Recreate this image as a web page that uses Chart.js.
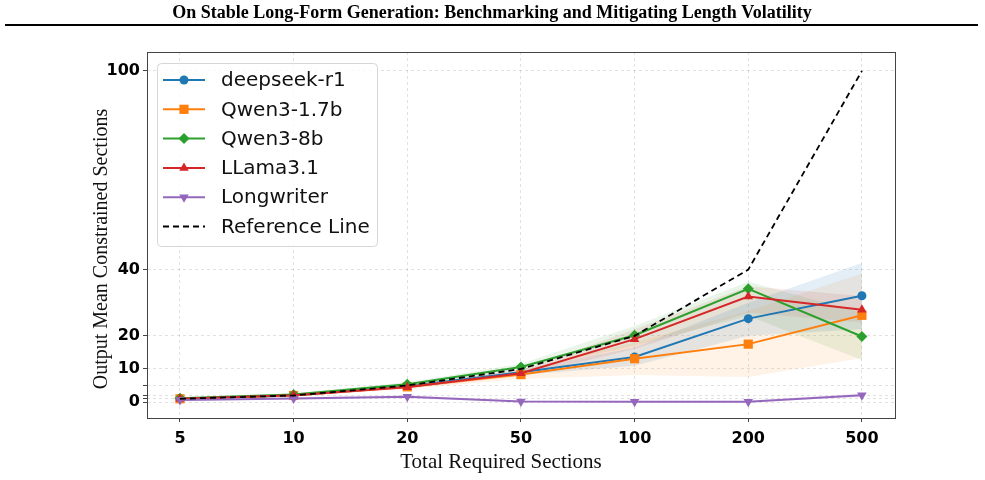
<!DOCTYPE html>
<html>
<head>
<meta charset="utf-8">
<script src="https://cdn.jsdelivr.net/npm/chart.js@4"></script>
<style>
  html, body { margin: 0; padding: 0; background: #fff; }
  #wrap { position: relative; width: 985px; height: 480px; }
</style>
</head>
<body>
<div id="wrap"><canvas id="chart" width="985" height="480"></canvas></div>
<script>
// categories on x (total required sections)
var categories = ['5', '10', '20', '50', '100', '200', '500'];

// y ticks (only some labelled)
var yTickValues = [0, 1, 2, 5, 10, 20, 40, 100];
var yTickLabels = [0, 10, 20, 40, 100];

// mean values
var deepseek   = [1.0, 2.0, 4.8, 9.0, 13.6, 25.2, 32.1];
var qwen17     = [1.0, 2.0, 4.6, 8.3, 13.1, 17.5, 26.2];
var qwen8      = [1.2, 2.3, 5.4, 10.6, 20.2, 34.2, 19.8];
var llama      = [1.0, 2.1, 4.5, 8.7, 19.0, 31.9, 27.9];
var longwriter = [0.6, 1.1, 1.6, 0.2, 0.1, 0.1, 2.1];
var reference  = [1, 2, 5, 10, 20, 40, 100];

// shaded bands (lower / upper)
var deepseekLo = [0.7, 1.7, 4.3, 8.2, 11.0, 20.0, 22.0];
var deepseekHi = [1.3, 2.3, 5.3, 9.8, 16.5, 30.0, 42.0];
var qwen17Lo   = [0.7, 1.7, 4.0, 7.0, 8.2, 7.6, 13.3];
var qwen17Hi   = [1.3, 2.3, 5.2, 9.6, 18.0, 27.5, 38.8];
var qwen8Lo    = [0.9, 1.9, 4.8, 9.6, 17.0, 26.0, 12.7];
var qwen8Hi    = [1.5, 2.7, 6.0, 11.6, 23.0, 36.3, 27.0];
var llamaLo    = [0.7, 1.7, 4.0, 7.8, 16.0, 27.0, 24.0];
var llamaHi    = [1.3, 2.4, 5.0, 9.6, 22.0, 35.0, 32.0];
var longLo     = [0.3, 0.7, 1.1, 0.0, 0.0, 0.0, 1.5];
var longHi     = [0.9, 1.5, 2.1, 0.4, 0.4, 0.4, 2.7];

function pts(arr) {
  return arr.map(function (v, i) { return { x: i, y: v }; });
}

var series = [
  { label: 'deepseek-r1', data: deepseek, lo: deepseekLo, hi: deepseekHi, color: '#1f77b4', fill: 'rgba(31,119,180,0.12)', marker: 'circle', r: 4.5, rot: 0 },
  { label: 'Qwen3-1.7b', data: qwen17, lo: qwen17Lo, hi: qwen17Hi, color: '#ff7f0e', fill: 'rgba(255,127,14,0.10)', marker: 'rect', r: 6.5, rot: 0 },
  { label: 'Qwen3-8b', data: qwen8, lo: qwen8Lo, hi: qwen8Hi, color: '#2ca02c', fill: 'rgba(44,160,44,0.10)', marker: 'rectRot', r: 5.5, rot: 0 },
  { label: 'LLama3.1', data: llama, lo: llamaLo, hi: llamaHi, color: '#d62728', fill: 'rgba(214,39,40,0.10)', marker: 'triangle', r: 5.5, rot: 0 },
  { label: 'Longwriter', data: longwriter, lo: longLo, hi: longHi, color: '#9467bd', fill: 'rgba(148,103,189,0.12)', marker: 'triangle', r: 5.5, rot: 180 }
];

var datasets = [];
// bands first
series.forEach(function (s, k) {
  datasets.push({ label: '_hi' + k, data: pts(s.hi), borderWidth: 0, pointRadius: 0, fill: '+1', backgroundColor: s.fill, order: 20 + k });
  datasets.push({ label: '_lo' + k, data: pts(s.lo), borderWidth: 0, pointRadius: 0, fill: false, order: 20 + k });
});
series.forEach(function (s, k) {
  datasets.push({
    label: s.label, data: pts(s.data), borderColor: s.color, backgroundColor: s.color,
    borderWidth: 2, pointStyle: s.marker, pointRadius: s.r, pointRotation: s.rot,
    pointBorderWidth: 0, fill: false, order: 10 - k
  });
});
datasets.push({
  label: 'Reference Line', data: pts(reference), borderColor: '#000', borderWidth: 1.8,
  borderDash: [6, 4], pointRadius: 0, fill: false, order: 0
});

function drawMarker(ctx, type, x, y, r, rot, color) {
  ctx.save();
  ctx.fillStyle = color;
  ctx.translate(x, y);
  ctx.rotate(rot * Math.PI / 180);
  ctx.beginPath();
  if (type === 'circle') {
    ctx.arc(0, 0, r, 0, Math.PI * 2);
  } else if (type === 'rect') {
    var h = r * Math.SQRT1_2;
    ctx.rect(-h, -h, 2 * h, 2 * h);
  } else if (type === 'rectRot') {
    ctx.moveTo(0, -r); ctx.lineTo(r, 0); ctx.lineTo(0, r); ctx.lineTo(-r, 0);
  } else {
    var sz = r * 1.5;
    ctx.moveTo(0, -r); ctx.lineTo(sz * 0.58, r / 2); ctx.lineTo(-sz * 0.58, r / 2);
  }
  ctx.closePath();
  ctx.fill();
  ctx.restore();
}

var decor = {
  id: 'decor',
  afterDraw: function (chart) {
    var ctx = chart.ctx, a = chart.chartArea;
    ctx.save();
    // page header
    ctx.fillStyle = '#000';
    ctx.font = 'bold 18px "Liberation Serif", "Times New Roman", serif';
    ctx.textAlign = 'center';
    ctx.textBaseline = 'middle';
    ctx.fillText('On Stable Long-Form Generation: Benchmarking and Mitigating Length Volatility', 492, 13);
    ctx.fillRect(5, 24, 973, 2);

    // frame
    ctx.strokeStyle = '#444';
    ctx.lineWidth = 1;
    ctx.strokeRect(a.left + 0.5, a.top + 0.5, a.right - a.left - 1, a.bottom - a.top);

    // axis titles
    ctx.fillStyle = '#111';
    ctx.font = '21px "Liberation Serif", "Times New Roman", serif';
    ctx.fillText('Total Required Sections', 501, 462);
    ctx.font = '20px "Liberation Serif", "Times New Roman", serif';
    ctx.save();
    ctx.translate(102, 249);
    ctx.rotate(-Math.PI / 2);
    ctx.fillText('Output Mean Constrained Sections', 0, 0);
    ctx.restore();

    // legend
    var bx = 157, by = 63, bw = 220, bh = 183;
    ctx.fillStyle = 'rgba(255,255,255,0.8)';
    ctx.strokeStyle = '#d6d6d6';
    ctx.beginPath();
    ctx.roundRect(bx + 0.5, by + 0.5, bw, bh, 4);
    ctx.fill();
    ctx.stroke();
    ctx.font = '20px "DejaVu Sans", sans-serif';
    ctx.textAlign = 'left';
    var rows = series.concat([{ label: 'Reference Line', color: '#000', dashed: true }]);
    rows.forEach(function (s, i) {
      var y = 80 + i * 29.3;
      ctx.strokeStyle = s.color;
      ctx.lineWidth = s.dashed ? 1.8 : 2;
      ctx.setLineDash(s.dashed ? [6, 4] : []);
      ctx.beginPath();
      ctx.moveTo(163, y);
      ctx.lineTo(205, y);
      ctx.stroke();
      ctx.setLineDash([]);
      if (!s.dashed) drawMarker(ctx, s.marker, 184, y, s.r, s.rot, s.color);
      ctx.fillStyle = '#111';
      ctx.fillText(s.label, 221, y + 1);
    });
    ctx.restore();
  }
};

new Chart(document.getElementById('chart'), {
  type: 'line',
  data: { datasets: datasets },
  plugins: [decor],
  options: {
    responsive: false,
    animation: false,
    layout: { padding: { left: 0, right: 89, top: 52, bottom: 0 } },
    plugins: { legend: { display: false }, tooltip: { enabled: false } },
    elements: { line: { tension: 0 } },
    scales: {
      x: {
        type: 'linear', min: -0.29, max: 6.3,
        afterBuildTicks: function (s) { s.ticks = categories.map(function (c, i) { return { value: i }; }); },
        afterFit: function (s) { s.height = 62; },
        ticks: {
          autoSkip: false, maxRotation: 0, padding: 7, color: '#000',
          font: { family: '"DejaVu Sans", sans-serif', size: 16, weight: 'bold' },
          callback: function (v) { return categories[v]; }
        },
        grid: { color: 'rgba(0,0,0,0.15)', lineWidth: 0.8, tickLength: 4, tickColor: '#444', tickBorderDash: [], tickWidth: 1 },
        border: { display: false, dash: [3, 3] }
      },
      y: {
        min: -4.8, max: 105.7,
        afterBuildTicks: function (s) { s.ticks = yTickValues.map(function (v) { return { value: v }; }); },
        afterFit: function (s) { s.width = 147; },
        ticks: {
          autoSkip: false, padding: 3, color: '#000',
          font: { family: '"DejaVu Sans", sans-serif', size: 16, weight: 'bold' },
          callback: function (v) { return yTickLabels.indexOf(v) >= 0 ? String(v) : ''; }
        },
        grid: { color: 'rgba(0,0,0,0.15)', lineWidth: 0.8, tickLength: 4, tickColor: '#444', tickBorderDash: [], tickWidth: 1 },
        border: { display: false, dash: [3, 3] }
      }
    }
  }
});
</script>
</body>
</html>
